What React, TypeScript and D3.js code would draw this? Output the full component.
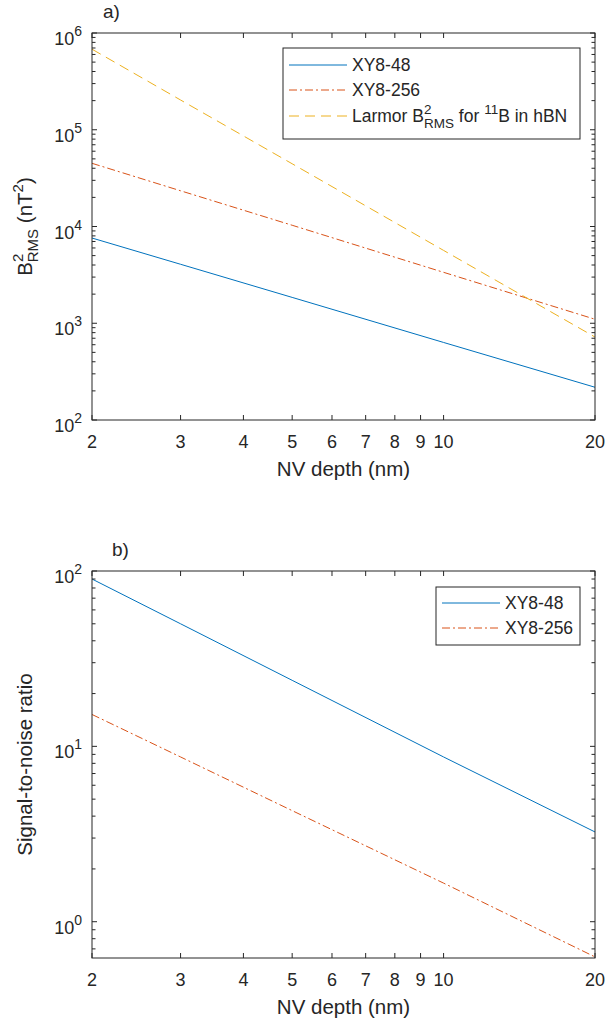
import React from "react";
import * as d3 from "d3";

const depths = [2, 3, 5, 10, 20];
const topXY48 = [7600, 4070, 1850, 633, 218];
const topXY256 = [45000, 23400, 10300, 3360, 1100];
const topLarmor = [680000, 203000, 44500, 5660, 720];
const botXY48 = [90, 50, 23.8, 8.7, 3.25];
const botXY256 = [15.2, 8.7, 4.3, 1.66, 0.63];
const xTicks = [2, 3, 4, 5, 6, 7, 8, 9, 10, 20];
const topYMajor = [2, 3, 4, 5, 6];
const botYMajor = [0, 1, 2];

const BLUE = "#0072BD";
const RED = "#D95319";
const YEL = "#EDB120";
const AX = "#262626";
const FONT = "'Liberation Sans', Arial, Helvetica, sans-serif";

const L = 92, R = 595;

function minorTicks(lo: number, hi: number) {
  const out: number[] = [];
  for (let e = Math.floor(Math.log10(lo)); e <= Math.ceil(Math.log10(hi)); e++) {
    for (let m = 2; m <= 9; m++) {
      const v = m * Math.pow(10, e);
      if (v >= lo * 0.999 && v <= hi * 1.001) out.push(v);
    }
  }
  return out;
}

type Series = { vals: number[]; color: string; dash?: string; name: React.ReactNode };

function Panel(props: {
  top: number; bottom: number; yDomain: [number, number]; majors: number[];
  series: Series[]; ylabel: React.ReactNode; title: string; titleX: number;
  legend: { x: number; y: number; w: number; h: number; rowY: number[] };
}) {
  const { top, bottom, yDomain, majors, series, ylabel, title, titleX, legend } = props;
  const x = d3.scaleLog().domain([2, 20]).range([L, R]);
  const y = d3.scaleLog().domain(yDomain).range([bottom, top]);
  const line = d3.line<number>().x((_, i) => x(depths[i])).y((v) => y(v));
  const minors = minorTicks(yDomain[0], yDomain[1]);
  const tl = 5, tm = 3.5;
  return (
    <g fontFamily={FONT} fill={AX}>
      <rect x={L} y={top} width={R - L} height={bottom - top} fill="#fff" />
      {series.map((s, i) => (
        <path key={i} d={line(s.vals) || ""} fill="none" stroke={s.color} strokeWidth={1} strokeDasharray={s.dash} />
      ))}
      {xTicks.map((t) => (
        <g key={t}>
          <line x1={x(t)} x2={x(t)} y1={bottom} y2={bottom - tl} stroke={AX} />
          <line x1={x(t)} x2={x(t)} y1={top} y2={top + tl} stroke={AX} />
          <text x={x(t)} y={bottom + 28} textAnchor="middle" fontSize={18}>{t}</text>
        </g>
      ))}
      {majors.map((e) => {
        const yy = y(Math.pow(10, e));
        return (
          <g key={e}>
            <line x1={L} x2={L + tl} y1={yy} y2={yy} stroke={AX} />
            <line x1={R} x2={R - tl} y1={yy} y2={yy} stroke={AX} />
            <text x={82} y={yy + 12} textAnchor="end" fontSize={18}>
              10<tspan dy={-9} fontSize={14}>{e}</tspan>
            </text>
          </g>
        );
      })}
      {minors.map((v, i) => (
        <g key={"m" + i}>
          <line x1={L} x2={L + tm} y1={y(v)} y2={y(v)} stroke={AX} />
          <line x1={R} x2={R - tm} y1={y(v)} y2={y(v)} stroke={AX} />
        </g>
      ))}
      <rect x={L} y={top} width={R - L} height={bottom - top} fill="none" stroke={AX} strokeWidth={1} />
      <text x={(L + R) / 2} y={bottom + 56} textAnchor="middle" fontSize={20.5}>NV depth (nm)</text>
      <text transform={`translate(32,${(top + bottom) / 2}) rotate(-90)`} textAnchor="middle" fontSize={20.5}>{ylabel}</text>
      <text x={titleX} y={top - 15} fontSize={19}>{title}</text>
      <rect x={legend.x} y={legend.y} width={legend.w} height={legend.h} fill="#fff" stroke={AX} strokeWidth={1} />
      {series.map((s, i) => (
        <g key={"l" + i}>
          <line x1={legend.x + 6} x2={legend.x + 64} y1={legend.rowY[i]} y2={legend.rowY[i]} stroke={s.color} strokeDasharray={s.dash} />
          <text x={legend.x + 69} y={legend.rowY[i] + 6} fontSize={17.5}>{s.name}</text>
        </g>
      ))}
    </g>
  );
}

export default function App() {
  const dashDot = "8,3,2,3";
  const dashed = "10,6";
  return (
    <svg width={606} height={1018} style={{ position: "absolute", left: 0, top: 0, background: "#fff" }}>
      <rect width={606} height={1018} fill="#fff" />
      <Panel
        top={33} bottom={420} yDomain={[100, 1e6]} majors={topYMajor}
        title="a)" titleX={103}
        series={[
          { vals: topXY48, color: BLUE, name: "XY8-48" },
          { vals: topXY256, color: RED, dash: dashDot, name: "XY8-256" },
          {
            vals: topLarmor, color: YEL, dash: dashed,
            name: (<>Larmor B<tspan dy={-8} fontSize={13.5}>2</tspan><tspan dx={-7.5} dy={14} fontSize={13.5}>RMS</tspan><tspan dy={-6}> for </tspan><tspan dy={-8} fontSize={13.5}>11</tspan><tspan dy={8}>B in hBN</tspan></>),
          },
        ]}
        ylabel={(<>B<tspan dy={-9} fontSize={15}>2</tspan><tspan dx={-8.5} dy={15} fontSize={15}>RMS</tspan><tspan dy={-6}> (nT</tspan><tspan dy={-9} fontSize={15}>2</tspan><tspan dy={9}>)</tspan></>)}
        legend={{ x: 283, y: 48, w: 297, h: 91, rowY: [65, 90, 116] }}
      />
      <Panel
        top={571} bottom={958} yDomain={[0.621, 100]} majors={botYMajor}
        title="b)" titleX={112}
        series={[
          { vals: botXY48, color: BLUE, name: "XY8-48" },
          { vals: botXY256, color: RED, dash: dashDot, name: "XY8-256" },
        ]}
        ylabel={<>Signal-to-noise ratio</>}
        legend={{ x: 436, y: 587, w: 144, h: 58, rowY: [603, 628] }}
      />
    </svg>
  );
}
